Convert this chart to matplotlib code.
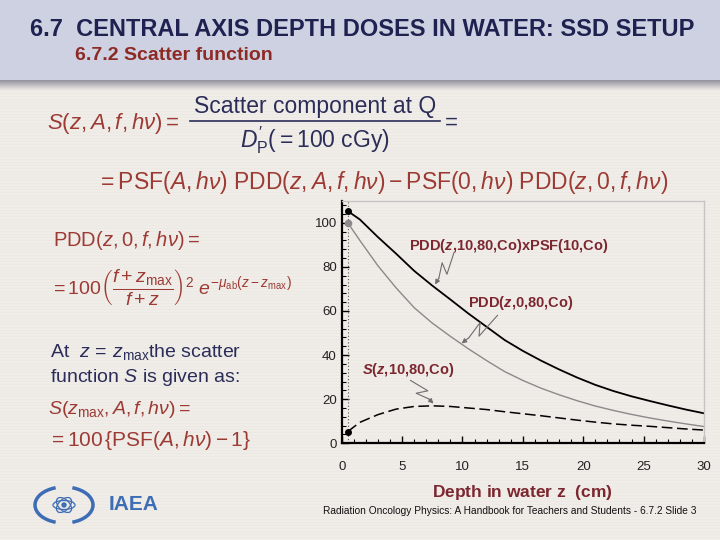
import numpy as np
import matplotlib.pyplot as plt
from matplotlib.lines import Line2D
from matplotlib.patches import Ellipse, Arc
from matplotlib.ticker import MultipleLocator

plt.rcParams['font.family'] = ['Liberation Sans', 'DejaVu Sans']
plt.rcParams['mathtext.fontset'] = 'custom'
plt.rcParams['mathtext.rm'] = 'Liberation Sans'
plt.rcParams['mathtext.it'] = 'Liberation Sans:italic'
plt.rcParams['mathtext.bf'] = 'Liberation Sans:bold'
plt.rcParams['mathtext.bfit'] = 'Liberation Sans:bold:italic'

# depth in water (cm) and the three curves
depth = [0.5, 1.5, 3, 4.5, 6, 7.5, 9, 10.5, 12, 13.5, 15, 16.5, 18, 19.5, 21, 22.5, 24, 25.5, 27, 28.5, 30]
pdd_psf = [105.3, 101.5, 93.5, 86, 78.2, 71.5, 65.2, 58.8, 52.8, 46.8, 41.9, 37.5, 33.5, 29.8, 26.5, 23.7, 21.3, 19.2, 17.2, 15.3, 13.6]
pdd_zero = [100, 92, 80.5, 70.5, 61.5, 54.5, 48.5, 42.8, 37.5, 32.5, 28.5, 25, 22, 19.3, 16.9, 14.9, 13.1, 11.5, 10.1, 8.8, 7.6]
scatter = [5.3, 9.5, 13, 15.5, 16.7, 17, 16.7, 16, 15.3, 14.3, 13.4, 12.5, 11.5, 10.5, 9.6, 8.8, 8.2, 7.7, 7.1, 6.5, 6.0]

x_ticks = [0, 5, 10, 15, 20, 25, 30]
y_ticks = [0, 20, 40, 60, 80, 100]

RED = '#9c3a33'
DARKRED = '#7c2730'
NAVY = '#2b2d58'

W, H = 720, 540


def P(x, y):
    # slide pixel -> figure fraction
    return x / W, 1 - y / H


fig = plt.figure(figsize=(7.2, 5.4), dpi=100)

# slide background: header band, shadow, striped body
img = np.zeros((H, 1, 3))
body = np.array([240, 237, 233]) / 255
for r in range(H):
    if r < 80:
        c = np.array([205, 209, 225]) / 255
    elif r < 90:
        t = (r - 80) / 10
        dark = np.array([150, 150, 160]) / 255
        c = dark * (1 - t) + body * t
    else:
        c = body - (0.012 if r % 3 == 0 else 0)
    img[r, 0] = c
bg = fig.add_axes([0, 0, 1, 1])
bg.imshow(img, aspect='auto', extent=[0, 1, 0, 1], interpolation='nearest')
bg.axis('off')

# titles
fig.text(*P(30, 29), '6.7  CENTRAL AXIS DEPTH DOSES IN WATER: SSD SETUP',
         color='#1f2250', fontsize=17, fontweight='bold', va='center', ha='left')
fig.text(*P(75, 55), '6.7.2 Scatter function', color='#8e2a24',
         fontsize=14, fontweight='bold', va='center', ha='left')

# formulas
fig.text(*P(47, 123), r'$S(z,A,f,h\nu)=$', color=RED, fontsize=16, va='center')
fig.text(*P(315, 106), 'Scatter component at Q', color=NAVY, fontsize=16.5, va='center', ha='center')
fig.add_artist(Line2D([190 / W, 440 / W], [1 - 121 / H] * 2, color=NAVY, lw=1.2))
fig.text(*P(315, 140), r"$D_{\mathrm{P}}^{\prime}(=100\ \mathrm{cGy})$", color=NAVY, fontsize=16.5,
         va='center', ha='center')
fig.text(*P(445, 123), '=', color=NAVY, fontsize=16, va='center')
fig.text(*P(97, 182),
         r'$=\mathrm{PSF}(A,h\nu)\ \mathrm{PDD}(z,A,f,h\nu)-\mathrm{PSF}(0,h\nu)\ \mathrm{PDD}(z,0,f,h\nu)$',
         color=RED, fontsize=16.5, va='center')

fig.text(*P(53, 241), r'$\mathrm{PDD}(z,0,f,h\nu)=$', color=RED, fontsize=14.5, va='center')
fig.text(*P(50, 287),
         r'$=100\left(\dfrac{f+z_{\mathrm{max}}}{f+z}\right)^{2}\ e^{-\mu_{\mathrm{ab}}(z-z_{\mathrm{max}})}$',
         color=RED, fontsize=14, va='center')
fig.text(*P(50, 352), r'At  $z\,=\,z_{\mathrm{max}}$the scatter', color=NAVY, fontsize=14, va='center')
fig.text(*P(50, 377), r'function $S$ is given as:', color=NAVY, fontsize=14, va='center')
fig.text(*P(48, 410), r'$S(z_{\mathrm{max}},A,f,h\nu)=$', color=RED, fontsize=14, va='center')
fig.text(*P(48, 441), r'$=100\,\{\mathrm{PSF}(A,h\nu)-1\}$', color=RED, fontsize=15, va='center')

# chart
ax = fig.add_axes([341.7 / W, 1 - 443.3 / H, (704 - 341.7) / W, (443.3 - 200.7) / H])
ax.set_facecolor('none')
ax.axvline(depth[0], color='#555555', lw=0.8, ls=(0, (1, 2)))
ax.plot(depth, pdd_psf, color='black', lw=1.3)
ax.plot(depth, pdd_zero, color='#8a8a8a', lw=1.0)
ax.plot(depth, scatter, color='black', lw=1.1, dashes=(7, 3))
ax.plot(depth[0], pdd_psf[0], 'o', color='black', ms=4)
ax.plot(depth[0], pdd_zero[0], 'o', color='#8a8a8a', ms=4.5)
ax.plot(depth[0], scatter[0], 'o', color='black', ms=4)

ax.set_xlim(0, 30)
ax.set_ylim(0, 110)
ax.set_xticks(x_ticks)
ax.set_yticks(y_ticks)
ax.xaxis.set_minor_locator(MultipleLocator(1))
ax.yaxis.set_minor_locator(MultipleLocator(4))
ax.tick_params(which='both', direction='in', top=False, right=False, labelsize=9.5,
               labelcolor='#222222', color='black')
ax.tick_params(which='major', length=5, width=1)
ax.tick_params(which='minor', length=3, width=0.8)
ax.tick_params(axis='x', pad=13)
for s in ['left', 'bottom']:
    ax.spines[s].set_linewidth(1.6)
for s in ['top', 'right']:
    ax.spines[s].set_color('#c4c4c4')
    ax.spines[s].set_linewidth(1.0)
ax.set_xlabel(r'Depth in water $\mathbf{z}$  (cm)', color=DARKRED, fontsize=12.5,
              fontweight='bold', labelpad=7)

lab = dict(color=DARKRED, fontsize=10.5, fontweight='bold', va='center')
ax.text(5.6, 89.5, r'PDD($\mathbfit{z}$,10,80,Co)xPSF(10,Co)', **lab)
ax.text(10.45, 63.5, r'PDD($\mathbfit{z}$,0,80,Co)', **lab)
ax.text(1.7, 33.2, r'$\mathbfit{S}$($\mathbfit{z}$,10,80,Co)', **lab)

fig.canvas.draw()


def zigzag(start, tip, w=5):
    # lightning-shaped pointer from label to curve
    a = ax.transData.transform(start)
    b = ax.transData.transform(tip)
    d = b - a
    n = np.array([-d[1], d[0]]) / np.hypot(*d)
    pts = [a, a + 0.6 * d + w * n, a + 0.4 * d - w * n, a + 0.8 * d]
    pts = ax.transData.inverted().transform(np.array(pts))
    ax.plot(pts[:, 0], pts[:, 1], color='#6e6e6e', lw=0.8, clip_on=False)
    ax.annotate('', xy=tip, xytext=pts[-1],
                arrowprops=dict(arrowstyle='-|>', color='#6e6e6e', lw=0.8,
                                mutation_scale=7, shrinkA=0, shrinkB=0))


zigzag((9.3, 86.5), (7.73, 72.0))
zigzag((12.9, 58.0), (9.93, 45.3))
zigzag((5.7, 28.5), (7.6, 18.0))

# footer
fig.text(*P(323, 511), 'Radiation Oncology Physics: A Handbook for Teachers and Students - 6.7.2 Slide 3',
         fontsize=7.3, color='#111111', va='center')
BLUE = '#3d6db4'
fig.text(*P(109, 505), 'IAEA', color=BLUE, fontsize=15, fontweight='bold', va='center')
cx, cy = P(64, 505)
for ang in [0, 60, 120]:
    fig.add_artist(Ellipse((cx, cy), 22 / W, 9 / H, angle=ang, fill=False, ec=BLUE, lw=0.9,
                           transform=fig.transFigure))
fig.add_artist(Ellipse((cx, cy), 4 / W, 4 / H, color=BLUE, transform=fig.transFigure))
fig.add_artist(Arc((cx, cy), 58 / W, 36 / H, theta1=110, theta2=250, ec=BLUE, lw=2.5,
                   transform=fig.transFigure))
fig.add_artist(Arc((cx, cy), 58 / W, 36 / H, theta1=-70, theta2=70, ec=BLUE, lw=2.5,
                   transform=fig.transFigure))

fig.savefig('out.png', dpi=100)
